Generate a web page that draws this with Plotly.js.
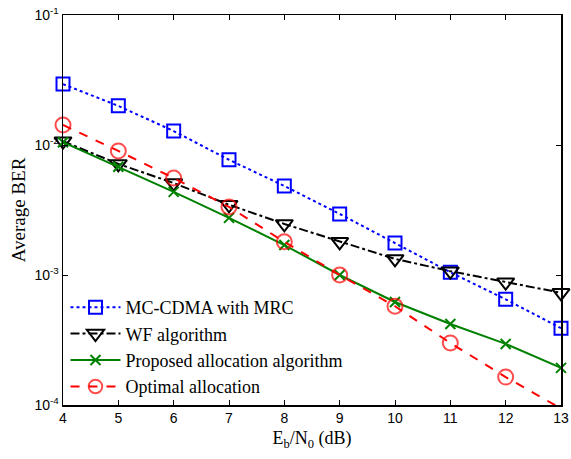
<!DOCTYPE html>
<html><head><meta charset="utf-8">
<script src="https://cdn.plot.ly/plotly-3.0.1.min.js"></script>
<style>html,body{margin:0;padding:0;background:#fff;}#plot{width:571px;height:459px;}</style>
</head><body><div id="plot"></div>
<script>
const snr = [4,5,6,7,8,9,10,11,12,13];
const mcCdma = [0.0294,0.0200,0.0128,0.0077,0.00484,0.00295,0.00176,0.00105,0.00065,0.00039];
const wfAlg = [0.0107,0.00715,0.0051,0.00347,0.00247,0.0018,0.00133,0.00107,0.00088,0.00073];
const proposed = [0.0105,0.0068,0.00436,0.00275,0.0017,0.0010,0.00062,0.00042,0.000295,0.000193];
const optimal = [0.01425,0.0090,0.00557,0.00334,0.0018,0.0010,0.000575,0.00030,0.000164,0.000094];
const names = ['MC-CDMA with MRC','WF algorithm','Proposed allocation algorithm','Optimal allocation'];
const yTickVals = [1e-4,1e-3,1e-2,1e-1];
const yTickText = ['10<sup>-4</sup>','10<sup>-3</sup>','10<sup>-2</sup>','10<sup>-1</sup>'];

const yMin = 1e-4;
const minorVals = [];
for (let d = -4; d < -1; d++) for (let m = 2; m <= 9; m++) minorVals.push(m * Math.pow(10, d));

const common = {mode:'lines+markers', cliponaxis:false};
const traces = [
  Object.assign({x:snr,y:mcCdma,name:names[0],
   line:{color:'#0000ff',dash:'dot',width:2},
   marker:{symbol:'square-open',size:13,color:'#0000ff',line:{width:2,color:'#0000ff'}}}, common),
  Object.assign({x:snr,y:wfAlg,name:names[1],
   line:{color:'#000000',dash:'dashdot',width:2},
   marker:{symbol:'triangle-down-open',size:15,color:'#000000',line:{width:2,color:'#000000'}}}, common),
  Object.assign({x:snr,y:proposed,name:names[2],
   line:{color:'#008000',width:2},
   marker:{symbol:'x-thin-open',size:10,color:'#008000',line:{width:2,color:'#008000'}}}, common),
  Object.assign({x:snr,y:optimal,name:names[3],
   line:{color:'#ff0000',dash:'dash',width:2},
   marker:{symbol:'circle-open',size:optimal.map(v => v < yMin ? 0 : 15),color:'#ff0000',line:{width:2,color:'#ff0000'}}}, common)
];

const layout = {
  width:571,height:459,
  margin:{l:63,r:10,t:15,b:54},
  paper_bgcolor:'#fff',plot_bgcolor:'#fff',
  showlegend:true,
  legend:{x:0.005,y:0.0,xanchor:'left',yanchor:'bottom',bgcolor:'rgba(255,255,255,0)',
          borderwidth:0,font:{family:'Liberation Serif, Times New Roman, serif',size:18,color:'#000'},
          tracegroupgap:0,itemwidth:50},
  xaxis:{range:[4,13],tickvals:snr,ticks:'inside',ticklen:5,tickcolor:'#000',
         showline:true,linecolor:'#000',linewidth:1.5,mirror:'ticks',showgrid:false,zeroline:false,
         tickfont:{family:'Liberation Sans, Arial, sans-serif',size:14,color:'#000'},
         title:{text:'E<sub>b</sub>/N<sub>0</sub> (dB)',standoff:6,
                font:{family:'Liberation Serif, Times New Roman, serif',size:18,color:'#000'}}},
  yaxis:{type:'log',range:[-4,-1],tickvals:yTickVals,ticktext:yTickText,ticks:'inside',ticklen:5,tickcolor:'#000',
         showline:true,linecolor:'#000',linewidth:1.5,mirror:'ticks',showgrid:false,zeroline:false,
         tickfont:{family:'Liberation Sans, Arial, sans-serif',size:14,color:'#000'},
         title:{text:'Average BER',standoff:4,
                font:{family:'Liberation Serif, Times New Roman, serif',size:19,color:'#000'}}},
  yaxis2:{type:'log',range:[-4,-1],overlaying:'y',side:'left',tickmode:'array',tickvals:minorVals,
          ticks:'inside',ticklen:3,tickcolor:'#000',showticklabels:false,
          showline:true,linecolor:'#000',linewidth:1.5,mirror:'ticks',showgrid:false,zeroline:false}
};
Plotly.newPlot('plot',traces,layout,{staticPlot:true,displayModeBar:false});
</script></body></html>
